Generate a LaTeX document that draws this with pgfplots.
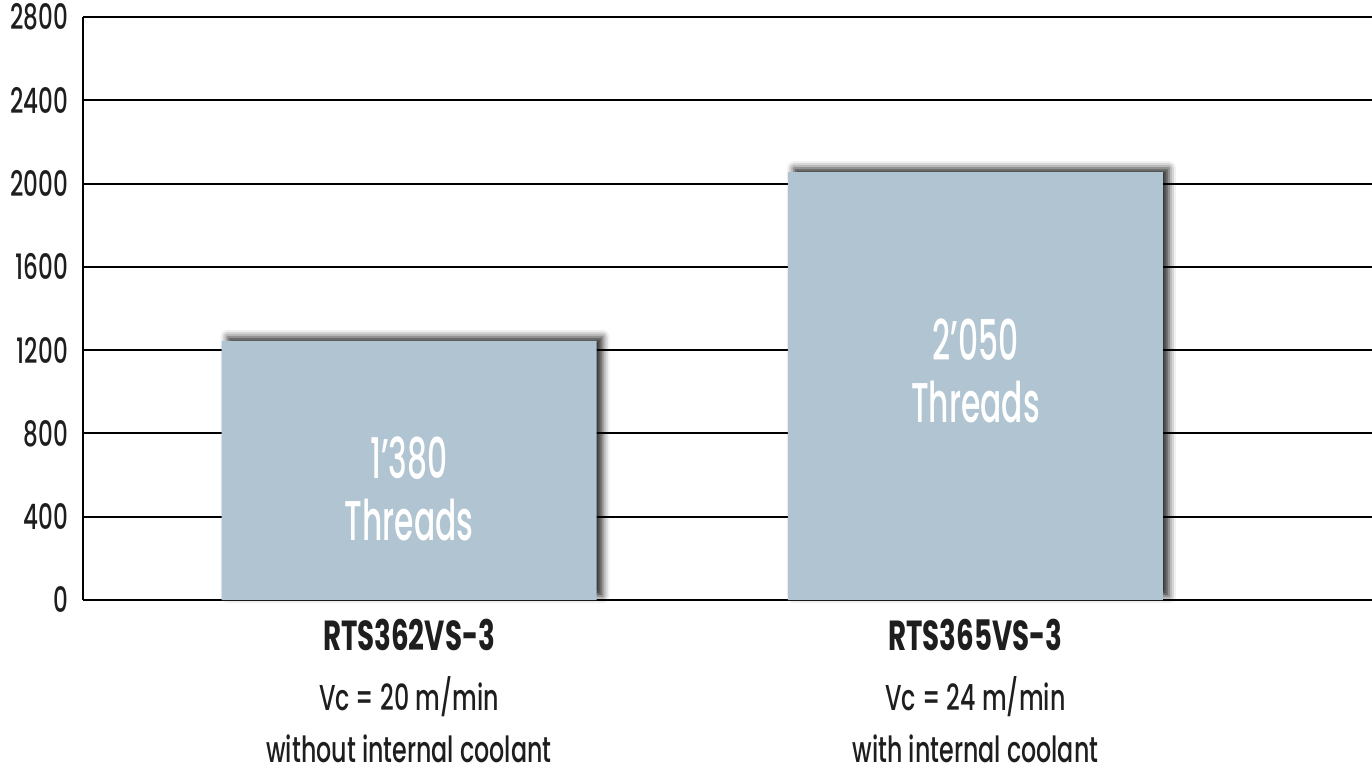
\documentclass[border=0pt]{standalone}
\usepackage{pgfplots}
\pgfplotsset{compat=1.18}
\usepackage{fontspec}
\setmainfont{Poppins}[FakeStretch=0.66, UprightFont=* Medium, BoldFont=* Bold]
\newfontfamily\barfont{Poppins}[FakeStretch=0.56, UprightFont=* Medium]
\usetikzlibrary{shadows.blur}

\definecolor{barblue}{RGB}{176,196,210}
\definecolor{txt}{RGB}{30,30,30}

\begin{document}
\begin{tikzpicture}
  \begin{axis}[
    at={(41.5pt,91.5pt)}, anchor=south west,
    scale only axis,
    width=644.5pt, height=291.5pt,
    xmin=-0.5755, xmax=1.70,
    ymin=0, ymax=2800,
    ytick={0,400,...,2800},
    xtick={0,1},
    xticklabels={
      {{\fontsize{21}{29}\selectfont\textbf{RTS362VS-3}}\\Vc = 20 m/min\\[-4pt]without internal coolant},
      {{\fontsize{21}{29}\selectfont\textbf{RTS365VS-3}}\\Vc = 24 m/min\\[-4pt]with internal coolant}},
    axis lines*=left,
    axis line style={line width=1pt, -},
    major tick length=0pt,
    ymajorgrids,
    grid style={line width=1pt, black},
    /pgf/number format/assume math mode=true,
    /pgf/number format/1000 sep={},
    yticklabel style={font=\fontsize{17.5}{19}\selectfont, text=txt, xshift=-4pt},
    xticklabel style={font=\fontsize{18}{30}\selectfont, text=txt, align=center, yshift=-8.5pt, inner sep=1pt},
    ybar, bar width=187.5pt,
    clip=false,
  ]
    \addplot[fill=barblue, draw=none,
      blur shadow={shadow xshift=3pt, shadow yshift=2pt, shadow blur radius=3.5pt, shadow opacity=85}]
      coordinates {(0,1245) (1,2055)};
    \node[white, align=center, font=\barfont\fontsize{28}{31}\selectfont] at (axis cs:0,533) {1’380\\Threads};
    \node[white, align=center, font=\barfont\fontsize{28}{31}\selectfont] at (axis cs:1,1100) {2’050\\Threads};
  \end{axis}
  \pgfresetboundingbox
  \path (0,0) rectangle (686pt,391.5pt);
\end{tikzpicture}
\end{document}
